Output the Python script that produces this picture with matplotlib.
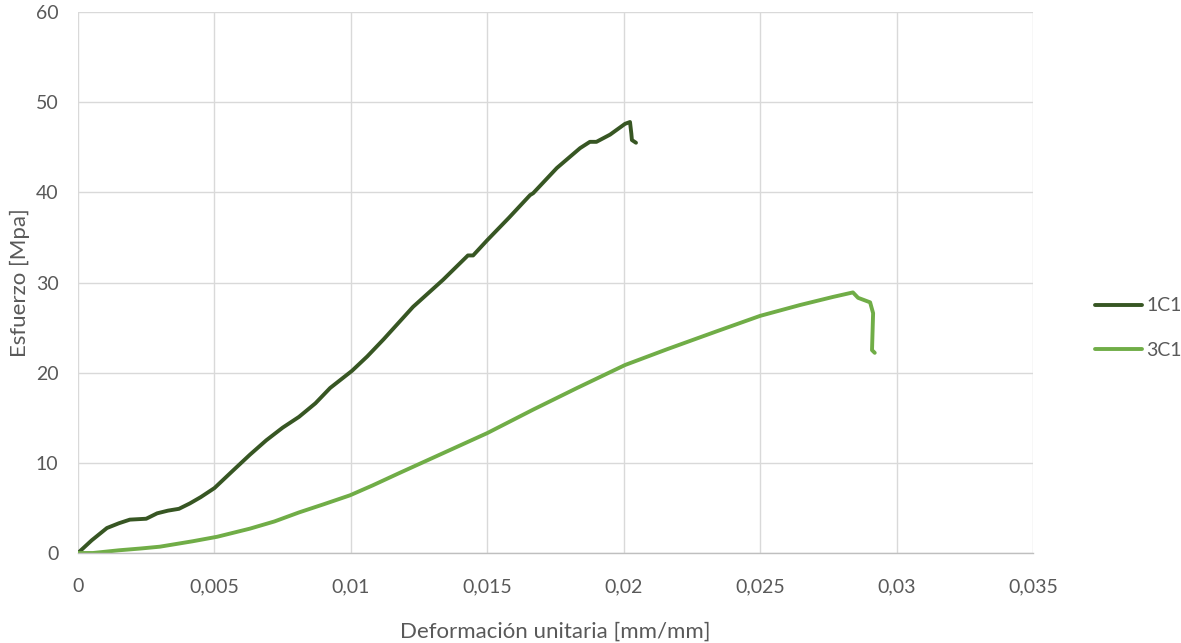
import matplotlib
matplotlib.use("Agg")
import matplotlib.pyplot as plt
from matplotlib.ticker import FuncFormatter

plt.rcParams['font.family'] = ['Lato', 'DejaVu Sans']

# 1C1 series
x_1c1 = [0, 0.0005, 0.00106, 0.0015, 0.0019, 0.0025, 0.0029, 0.0033, 0.0037, 0.0041, 0.0045,
         0.005, 0.0057, 0.0063, 0.0069, 0.0075, 0.0081, 0.0087, 0.00924, 0.01004, 0.0106,
         0.0112, 0.01228, 0.01338, 0.01429, 0.01448, 0.015, 0.0158,
         0.01657, 0.01668, 0.01755, 0.0184, 0.01876, 0.019, 0.0195, 0.02005, 0.02023,
         0.02028, 0.0203, 0.02045]
y_1c1 = [0, 1.4, 2.77, 3.3, 3.7, 3.8, 4.4, 4.7, 4.9, 5.5, 6.2,
         7.2, 9.2, 10.9, 12.5, 13.9, 15.1, 16.6, 18.3, 20.2, 21.8,
         23.7, 27.3, 30.3, 33.0, 33.0, 34.7, 37.2,
         39.7, 39.9, 42.7, 44.9, 45.6, 45.6, 46.4, 47.6, 47.8,
         46.5, 45.8, 45.5]

# 3C1 series
x_3c1 = [0, 0.00055, 0.0015, 0.0023, 0.003, 0.0036, 0.0042, 0.0051, 0.0063, 0.0072, 0.0081,
         0.009, 0.00997, 0.0108, 0.0118, 0.0134, 0.015, 0.01668, 0.01829, 0.02005, 0.02159,
         0.02342, 0.025, 0.02646, 0.02767, 0.0284, 0.02859, 0.02903,
         0.02914, 0.0291, 0.0292]
y_3c1 = [0, 0.0, 0.3, 0.5, 0.7, 1.0, 1.3, 1.8, 2.7, 3.5, 4.5,
         5.4, 6.4, 7.5, 8.9, 11.1, 13.3, 15.9, 18.3, 20.85, 22.6,
         24.6, 26.3, 27.5, 28.4, 28.9, 28.3, 27.8,
         26.6, 22.5, 22.2]

series_names = ["1C1", "3C1"]
colors = ["#375623", "#70AD47"]

x_ticks = [0, 0.005, 0.01, 0.015, 0.02, 0.025, 0.03, 0.035]
y_ticks = [0, 10, 20, 30, 40, 50, 60]

fig = plt.figure(figsize=(11.81, 6.43), dpi=100)
ax = fig.add_axes([78/1181, 90/643, (1033-78)/1181, (553-12)/643])

ax.plot(x_1c1, y_1c1, color=colors[0], lw=2.8, label=series_names[0],
        solid_capstyle='round', solid_joinstyle='round')
ax.plot(x_3c1, y_3c1, color=colors[1], lw=2.8, label=series_names[1],
        solid_capstyle='round', solid_joinstyle='round')

ax.set_xlim(0, 0.035)
ax.set_ylim(0, 60)
ax.set_xticks(x_ticks)
ax.set_yticks(y_ticks)

def fmt(v, pos):
    if v == 0:
        return "0"
    s = ("%.3f" % v).rstrip('0').rstrip('.')
    return s.replace('.', ',')

ax.xaxis.set_major_formatter(FuncFormatter(fmt))
ax.yaxis.set_major_formatter(FuncFormatter(lambda v, p: "%d" % v))

ax.grid(True, color="#D9D9D9", lw=1.0)
ax.set_axisbelow(True)
for s in ['top', 'right', 'left']:
    ax.spines[s].set_visible(False)
ax.spines['bottom'].set_color("#BFBFBF")
ax.spines['bottom'].set_linewidth(1.0)
ax.tick_params(axis='both', length=0, colors="#595959", labelsize=14)
ax.tick_params(axis='x', pad=18)
ax.tick_params(axis='y', pad=14)

ax.set_xlabel("Deformación unitaria [mm/mm]", fontsize=16, color="#595959", labelpad=19)
ax.set_ylabel("Esfuerzo [Mpa]", fontsize=16, color="#595959", labelpad=4)

leg = fig.legend(loc='center left', bbox_to_anchor=(1095/1181, 1 - 328/643), frameon=False,
                 fontsize=14, handlelength=2.4, handletextpad=0.25, labelspacing=1.4,
                 borderpad=0, borderaxespad=0, labelcolor="#595959")

fig.savefig("out.png", dpi=100)
